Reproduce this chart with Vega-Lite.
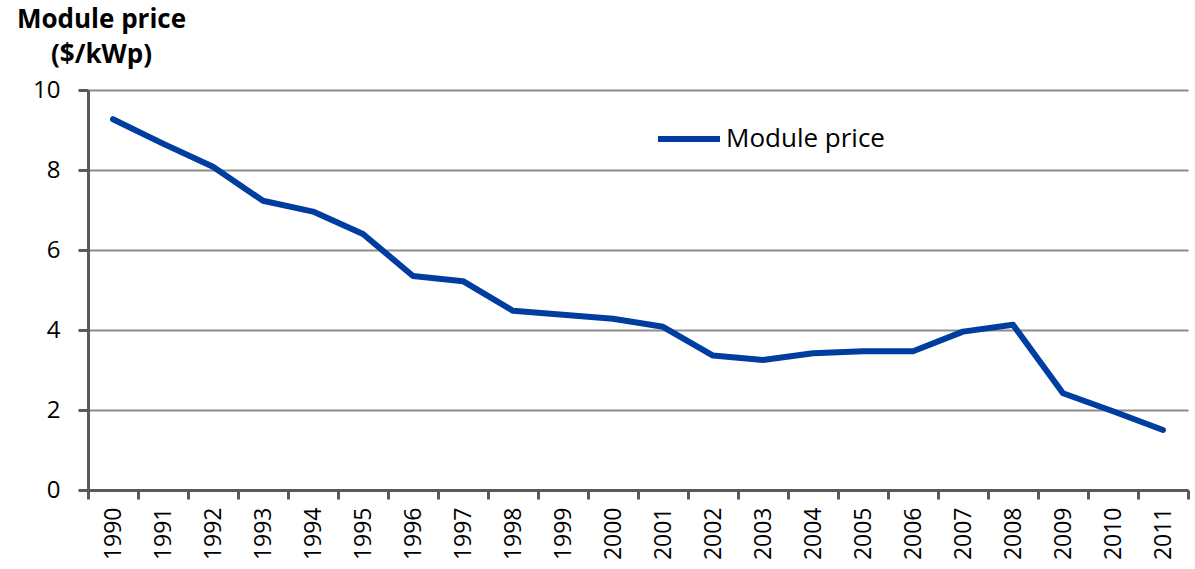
{
  "$schema": "https://vega.github.io/schema/vega-lite/v6.json",
  "width": 1100,
  "height": 400,
  "autosize": "none",
  "padding": {"left": 88, "top": 90, "right": 7, "bottom": 79},
  "background": "white",
  "config": {
    "view": {"stroke": null},
    "font": "Open Sans"
  },
  "data": {
    "values": [
      {"year": "1990", "price": 9.27, "series": "Module price"},
      {"year": "1991", "price": 8.66, "series": "Module price"},
      {"year": "1992", "price": 8.08, "series": "Module price"},
      {"year": "1993", "price": 7.23, "series": "Module price"},
      {"year": "1994", "price": 6.96, "series": "Module price"},
      {"year": "1995", "price": 6.4, "series": "Module price"},
      {"year": "1996", "price": 5.35, "series": "Module price"},
      {"year": "1997", "price": 5.22, "series": "Module price"},
      {"year": "1998", "price": 4.48, "series": "Module price"},
      {"year": "1999", "price": 4.38, "series": "Module price"},
      {"year": "2000", "price": 4.28, "series": "Module price"},
      {"year": "2001", "price": 4.08, "series": "Module price"},
      {"year": "2002", "price": 3.36, "series": "Module price"},
      {"year": "2003", "price": 3.25, "series": "Module price"},
      {"year": "2004", "price": 3.42, "series": "Module price"},
      {"year": "2005", "price": 3.47, "series": "Module price"},
      {"year": "2006", "price": 3.47, "series": "Module price"},
      {"year": "2007", "price": 3.96, "series": "Module price"},
      {"year": "2008", "price": 4.13, "series": "Module price"},
      {"year": "2009", "price": 2.42, "series": "Module price"},
      {"year": "2010", "price": 1.97, "series": "Module price"},
      {"year": "2011", "price": 1.5, "series": "Module price"}
    ]
  },
  "mark": {"type": "line", "strokeWidth": 6, "strokeJoin": "round", "strokeCap": "round"},
  "encoding": {
    "x": {
      "field": "year",
      "type": "ordinal",
      "bandPosition": 0.5,
      "scale": {"type": "band", "paddingInner": 0, "paddingOuter": 0},
      "axis": {
        "title": null,
        "labelAngle": -90,
        "labelAlign": "right",
        "labelBaseline": "middle",
        "labelFont": "Open Sans",
        "labelFontSize": 23,
        "labelColor": "black",
        "labelPadding": 8,
        "tickBand": "extent",
        "tickSize": 9,
        "tickWidth": 3,
        "tickColor": "#595959",
        "domainColor": "#595959",
        "domainWidth": 3,
        "grid": false
      }
    },
    "y": {
      "field": "price",
      "type": "quantitative",
      "scale": {"domain": [0, 10], "nice": false, "zero": true},
      "axis": {
        "values": [0, 2, 4, 6, 8, 10],
        "title": ["Module price", "($/kWp)"],
        "titleAngle": 0,
        "titleAlign": "center",
        "titleBaseline": "alphabetic",
        "titleX": 13,
        "titleY": -63,
        "titleLineHeight": 35,
        "titleFont": "Open Sans",
        "titleFontSize": 26,
        "titleFontWeight": "bold",
        "titleColor": "black",
        "labelFont": "Open Sans",
        "labelFontSize": 24,
        "labelColor": "black",
        "labelPadding": 18,
        "tickSize": 10,
        "tickWidth": 3,
        "tickColor": "#595959",
        "domainColor": "#595959",
        "domainWidth": 3,
        "grid": true,
        "gridColor": "#8c8c8c",
        "gridWidth": 2
      }
    },
    "color": {
      "field": "series",
      "type": "nominal",
      "scale": {"range": ["#003DA0"]},
      "legend": {
        "title": null,
        "orient": "none",
        "legendX": 567,
        "legendY": 15,
        "padding": 0,
        "symbolType": "stroke",
        "symbolSize": 3844,
        "symbolStrokeWidth": 6,
        "labelFont": "Open Sans",
        "labelFontSize": 26,
        "labelColor": "black",
        "labelOffset": 3
      }
    }
  }
}
